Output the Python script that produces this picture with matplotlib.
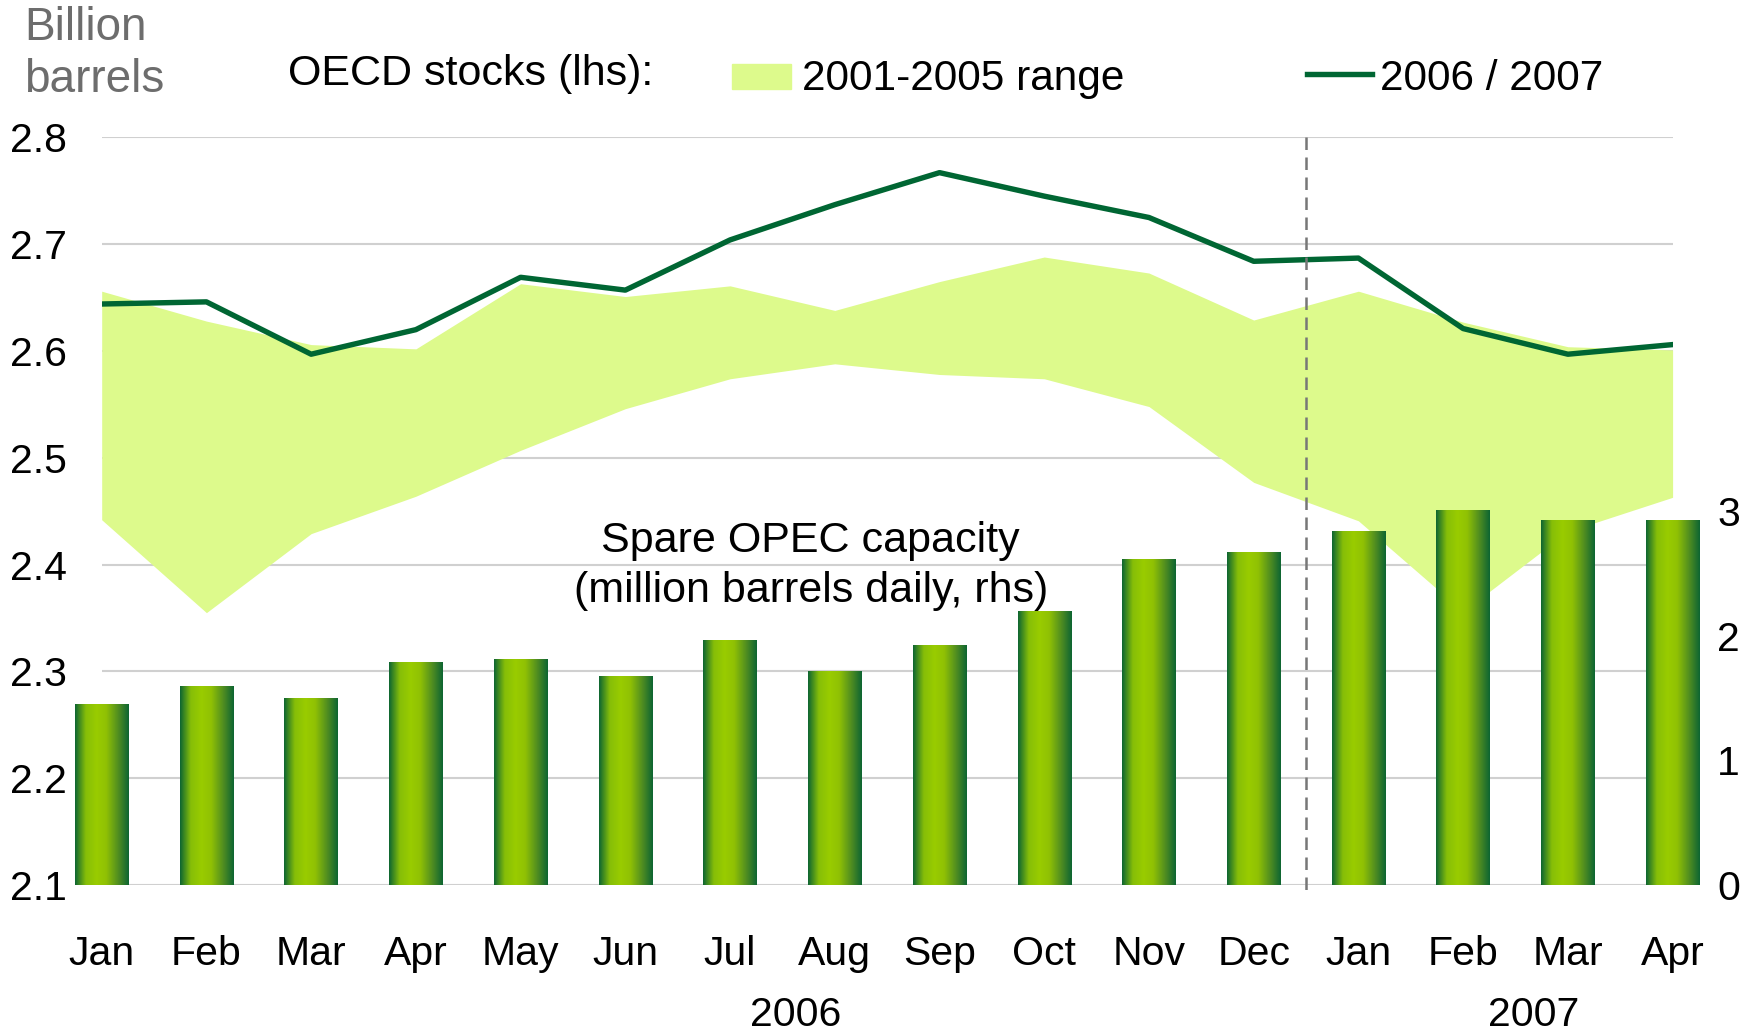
import numpy as np
import matplotlib
matplotlib.use("Agg")
import matplotlib.pyplot as plt
from matplotlib import font_manager
from matplotlib.colors import LinearSegmentedColormap
import matplotlib.transforms as mtransforms

# months on the category axis
months = ["Jan", "Feb", "Mar", "Apr", "May", "Jun", "Jul", "Aug", "Sep", "Oct", "Nov", "Dec",
          "Jan", "Feb", "Mar", "Apr"]

# OECD stocks 2006 / 2007 (billion barrels, lhs)
stocks = [2.644, 2.646, 2.597, 2.620, 2.669, 2.657, 2.704, 2.737, 2.767, 2.745, 2.725, 2.684,
          2.687, 2.621, 2.597, 2.606]
# 2001-2005 range
range_hi = [2.656, 2.628, 2.606, 2.602, 2.663, 2.651, 2.661, 2.638, 2.665, 2.688, 2.673, 2.629,
            2.656, 2.627, 2.604, 2.601]
range_lo = [2.442, 2.355, 2.429, 2.464, 2.507, 2.546, 2.574, 2.588, 2.578, 2.574, 2.548, 2.477,
            2.441, 2.356, 2.431, 2.463]
# spare OPEC capacity (million barrels daily, rhs)
spare = [1.45, 1.60, 1.50, 1.79, 1.81, 1.68, 1.97, 1.72, 1.93, 2.20, 2.62, 2.67,
         2.84, 3.01, 2.93, 2.93]

available = {f.name for f in font_manager.fontManager.ttflist}
narrow = "Liberation Sans Narrow" if "Liberation Sans Narrow" in available else "Liberation Sans"
plain = "Liberation Sans"

FS = 29.5
W, H = 1752, 1034
fig = plt.figure(figsize=(W / 100, H / 100), dpi=100)
ax = fig.add_axes([101.7 / W, 1 - 885 / H, (1672.6 - 101.7) / W, (885 - 137.4) / H])
ax2 = ax.twinx()

x = np.arange(len(months))

# range band and line on the left axis
ax.fill_between(x, range_lo, range_hi, color="#DDFA8C", lw=0, zorder=1)
ax.plot(x, stocks, color="#006633", lw=3.9, zorder=3)
ax.set_ylim(2.1, 2.8)
ax.set_yticks(np.arange(2.1, 2.81, 0.1))
ax.set_yticklabels([f"{v:.1f}" for v in np.arange(2.1, 2.81, 0.1)], fontsize=FS, family=narrow)
ax.set_axisbelow(True)
ax.yaxis.grid(True, color="#D0D0D0", lw=1.5, zorder=0)
ax.tick_params(axis="y", length=0, pad=25)
ax.set_xticks(x)
ax.set_xticklabels(months, fontsize=FS, family=narrow)
ax.tick_params(axis="x", length=0, pad=36)
for s in ax.spines.values():
    s.set_visible(False)

# gradient bars on the right axis
cmap = LinearSegmentedColormap.from_list("bar", [
    (0.0, "#0D6532"), (0.2, "#86BE08"), (0.4, "#99CC00"), (0.58, "#90C104"),
    (0.82, "#4B8A22"), (1.0, "#0D6532")])
grad = np.linspace(0, 1, 256).reshape(1, -1)
bw = 0.51
bars = ax2.bar(x, spare, width=bw, color="none", lw=0, clip_on=False)
for b, xi, v in zip(bars, x, spare):
    im = ax2.imshow(grad, cmap=cmap, aspect="auto", extent=(xi - bw / 2, xi + bw / 2, 0, v),
                    zorder=2, interpolation="bilinear")
    im.set_clip_path(b)
ax2.set_xlim(0, 15)
ax.set_xlim(0, 15)
ax2.set_ylim(0, 6)
ax2.set_yticks([0, 1, 2, 3])
ax2.set_yticklabels(["0", "1", "2", "3"], fontsize=FS, family=narrow)
ax2.tick_params(axis="y", length=0, pad=32)
for s in ax2.spines.values():
    s.set_visible(False)

# dashed divider between 2006 and 2007
ax2.plot([11.5, 11.5], [6.0, -0.07], color="#777777", lw=1.8, dashes=(5, 3), clip_on=False, zorder=5)

# year labels under the months
tr = mtransforms.blended_transform_factory(ax.transData, fig.transFigure)
fig.text(6.63, 1 - 1015 / H, "2006", transform=tr, ha="center", va="center", fontsize=FS, family=narrow)
fig.text(13.67, 1 - 1015 / H, "2007", transform=tr, ha="center", va="center", fontsize=FS, family=narrow)

# annotations and legend
fig.text(24 / W, 1 - 6 / H, "Billion\nbarrels", ha="left", va="top", fontsize=33, family=narrow,
         color="#6D6D6D", linespacing=1.25)
fig.text(288 / W, 1 - 74 / H, "OECD stocks (lhs):", ha="left", va="center", fontsize=31, family=narrow)
fig.patches.append(plt.Rectangle((732 / W, 1 - 89 / H), 59 / W, 25 / H, color="#DDFA8C",
                                 transform=fig.transFigure, figure=fig))
fig.text(802 / W, 1 - 79 / H, "2001-2005 range", ha="left", va="center", fontsize=30.5, family=narrow)
fig.lines.append(plt.Line2D([1307 / W, 1372 / W], [1 - 74 / H, 1 - 74 / H], color="#006633", lw=3.9,
                            transform=fig.transFigure, figure=fig))
fig.text(1380 / W, 1 - 79 / H, "2006 / 2007", ha="left", va="center", fontsize=30.5, family=narrow)

fig.text(6.77, 1 - 541 / H, "Spare OPEC capacity", transform=tr, ha="center", va="center",
         fontsize=31, family=plain)
fig.text(6.77, 1 - 591 / H, "(million barrels daily, rhs)", transform=tr, ha="center", va="center",
         fontsize=31, family=plain)

fig.savefig("out.png", dpi=100)
